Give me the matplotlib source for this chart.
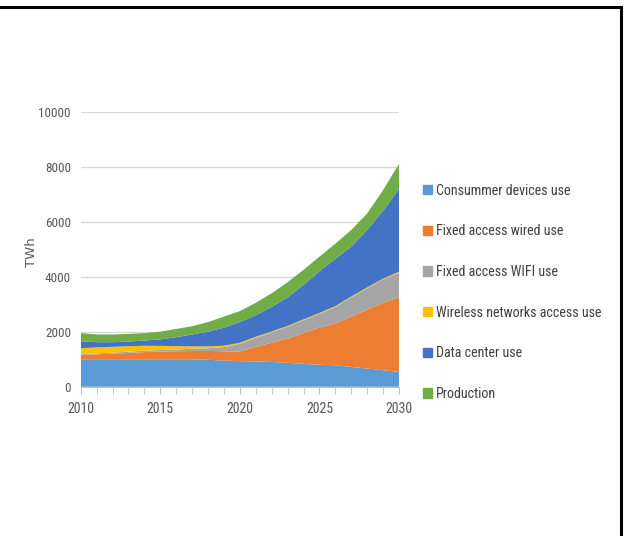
import matplotlib
matplotlib.use("Agg")
import matplotlib.pyplot as plt
from matplotlib.lines import Line2D
from matplotlib import font_manager
import numpy as np

years = list(range(2010, 2031))
consumer = [1000,1000,1000,1000,1000,1000,1000,1000,980,950,930,920,900,870,830,800,780,720,660,600,540]
fixed_wired = [150,180,200,230,260,280,290,300,320,340,350,530,700,880,1120,1350,1520,1830,2140,2450,2710]
fixed_wifi = [30,35,40,45,50,55,65,80,100,150,280,330,380,430,470,500,600,700,780,850,900]
wireless = [220,215,210,200,180,150,120,90,70,50,40,35,30,30,30,30,30,30,30,30,30]
data_center = [250,190,170,165,190,235,325,430,530,660,750,785,890,1040,1250,1520,1720,1820,2090,2470,3020]
production = [300,280,280,280,270,280,300,300,350,400,400,450,500,550,550,530,550,600,600,750,900]

labels = ["Consummer devices use", "Fixed access wired use", "Fixed access WIFI use",
          "Wireless networks access use", "Data center use", "Production"]
colors = ["#5B9BD5", "#ED7D31", "#A5A5A5", "#FFC000", "#4472C4", "#70AD47"]
yticks = [0, 2000, 4000, 6000, 8000, 10000]
xticks = [2010, 2015, 2020, 2025, 2030]

names = {f.name for f in font_manager.fontManager.ttflist}
narrow = None
for cand in ["Liberation Sans Narrow", "DejaVu Sans Condensed", "Roboto Condensed",
             "Open Sans Condensed", "Noto Sans Condensed", "Arial Narrow"]:
    if cand in names:
        narrow = cand
        break
if narrow is None:
    narrow = "Liberation Sans" if "Liberation Sans" in names else "DejaVu Sans"
plt.rcParams['font.family'] = [narrow, 'DejaVu Sans']
is_narrow = narrow not in ("Liberation Sans", "DejaVu Sans")
leg_fs = 10.1 if is_narrow else 9.3
tick_fs = 9.5 if is_narrow else 8.5

fig = plt.figure(figsize=(6.27, 5.36), dpi=100)
ax = fig.add_axes([0.1287, 0.2785, 0.5077, 0.5131])

series = [consumer, fixed_wired, fixed_wifi, wireless, data_center, production]
ax.stackplot(years, *series, colors=colors, labels=labels, linewidth=0)

ax.set_xlim(2010, 2030)
ax.set_ylim(0, 10000)
ax.set_yticks(yticks)
ax.set_yticklabels([str(t) for t in yticks])
ax.set_xticks(xticks)
ax.set_xticklabels([str(t) for t in xticks])
ax.set_xticks(years, minor=True)
ax.yaxis.grid(True, color="#D9D9D9", linewidth=1)
ax.set_axisbelow(True)
for s in ["top", "right", "left"]:
    ax.spines[s].set_visible(False)
ax.spines["bottom"].set_color("#BFBFBF")
ax.tick_params(axis="y", length=0, labelsize=tick_fs, colors="#595959", pad=7)
ax.tick_params(axis="x", which="both", length=5, color="#BFBFBF", labelsize=tick_fs + 0.5,
               labelcolor="#595959", pad=6)
ax.set_ylabel("TWh", family=["DejaVu Sans"], fontsize=9.5, color="#595959")
ax.yaxis.set_label_coords(-0.135, 0.49)

handles = [plt.Rectangle((0, 0), 1, 1, color=c) for c in colors]
fig.legend(handles, labels, loc="upper left", bbox_to_anchor=(0.665, 0.668),
           frameon=False, fontsize=leg_fs, labelspacing=1.9 if is_narrow else 1.75,
           handlelength=0.65, handleheight=0.65, handletextpad=0.3, labelcolor="#404040",
           borderaxespad=0)

fig.add_artist(Line2D([0, 621/627], [1-7/536, 1-7/536], color="black", linewidth=2.2, transform=fig.transFigure))
fig.add_artist(Line2D([621/627, 621/627], [1-7/536, 0], color="black", linewidth=2.2, transform=fig.transFigure))

fig.savefig("out.png", dpi=100)
